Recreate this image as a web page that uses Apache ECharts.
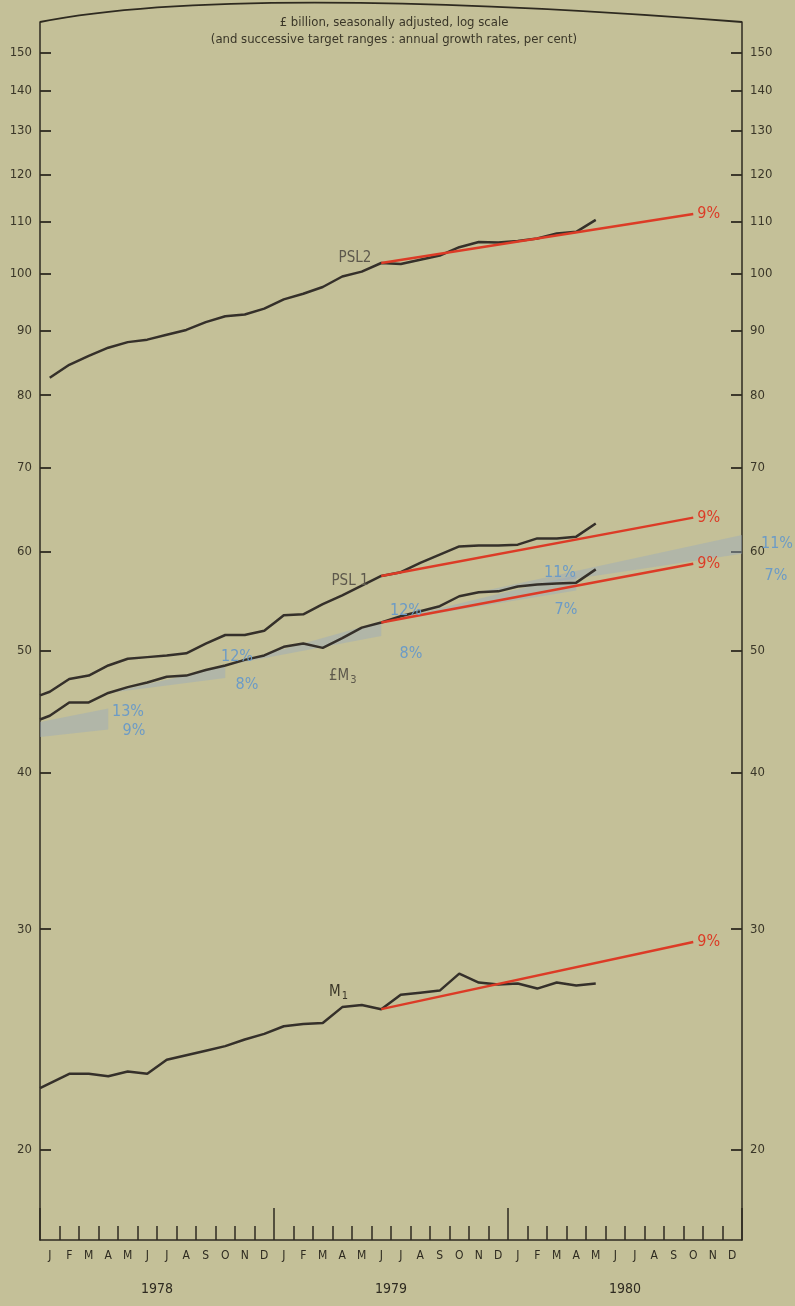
<!DOCTYPE html>
<html><head><meta charset="utf-8">
<script src="https://cdn.jsdelivr.net/npm/echarts@6/dist/echarts.min.js"></script>
<style>html,body{margin:0;padding:0;background:#c4c098}#c{width:795px;height:1306px}</style>
</head><body><div id="c"></div>
<script>
// ---- data ----
const monthLabels = ['J','F','M','A','M','J','J','A','S','O','N','D',
                     'J','F','M','A','M','J','J','A','S','O','N','D',
                     'J','F','M','A','M','J','J','A','S','O','N','D'];
const yearLabels = ['1978','1979','1980'];
const yTicks = [20,30,40,50,60,70,80,90,100,110,120,130,140,150];

// monthly values Jan 1978 .. May 1980 (£ billion)
const psl2 = [82.6,84.6,86.0,87.3,88.2,88.6,89.4,90.2,91.5,92.5,92.8,93.8,95.4,96.4,97.6,99.5,100.4,102.0,101.8,102.6,103.4,105.0,106.0,105.9,106.2,106.7,107.7,108.0,110.4];
const psl1 = [46.4,47.5,47.8,48.7,49.3,49.45,49.6,49.8,50.7,51.5,51.5,51.9,53.4,53.5,54.5,55.4,56.4,57.4,57.8,58.8,59.7,60.6,60.7,60.7,60.8,61.5,61.5,61.7,63.2];
const m3   = [44.4,45.5,45.5,46.3,46.8,47.2,47.7,47.8,48.3,48.7,49.2,49.6,50.4,50.7,50.3,51.2,52.2,52.7,53.3,53.8,54.3,55.3,55.7,55.8,56.3,56.5,56.6,56.7,58.1];
const m1   = [22.6,23.0,23.0,22.9,23.1,23.0,23.6,23.8,24.0,24.2,24.5,24.75,25.1,25.2,25.25,26.0,26.1,25.9,26.6,26.7,26.8,27.65,27.2,27.1,27.15,26.9,27.2,27.05,27.15];
// value where each line meets the left axis
const axisStart = {psl1: 46.1, m3: 44.1, m1: 22.4};

// 9% target lines: month index from / to and values
const targetFrom = 17, targetTo = 33;
const psl2Target = [102.0, 111.6];
const psl1Target = [57.4, 63.9];
const m3Target   = [52.7, 58.7];
const m1Target   = [25.9, 29.3];

// £M3 target ranges: [fromIdx, toIdx, lowFrom, highFrom, lowTo, highTo]
const bands = [
  [-0.5, 3, 42.7, 43.9, 43.3, 45.0],
  [3, 9, 46.3, 46.3, 47.6, 48.6],
  [9, 17, 48.7, 48.7, 51.4, 52.8],
  [17, 27, 52.7, 52.7, 55.9, 57.5],
  [21, 35.5, 55.3, 55.3, 59.8, 61.9]
];

// ---- chart ----
const FONT = "'Liberation Sans Narrow','DejaVu Sans Condensed','Liberation Sans',Arial,sans-serif";
const INK = '#2e2a20', LINE = '#35302a', RED = '#dc3b26', BLUE = '#6c9bc6', GREYTXT = '#5d584c';

function series(vals, start) {
  const d = [];
  if (start != null) d.push([-0.5, start]);
  vals.forEach((v, i) => d.push([i, v]));
  return d;
}
function blackLine(name, vals, start) {
  return {name, type:'line', xAxisIndex:0, yAxisIndex:0, data: series(vals, start), symbol:'none',
    lineStyle:{color: LINE, width:2.5}, z:4, silent:true};
}
function redLine(name, t) {
  return {name, type:'line', xAxisIndex:0, yAxisIndex:0, data:[[targetFrom, t[0]],[targetTo, t[1]]], symbol:'none',
    lineStyle:{color: RED, width:2.4}, z:5, silent:true,
    endLabel:{show:true, formatter:'9%', color:RED, fontSize:16, fontFamily:FONT, distance:4}};
}

const yAxisCommon = {type:'log', min:16.95, max:158.8, logBase:10,
  axisLine:{show:true, onZero:false, lineStyle:{color:INK, width:1.5}},
  axisTick:{show:true, inside:true, length:11, customValues:yTicks, lineStyle:{color:INK, width:1.8}},
  axisLabel:{show:true, customValues:yTicks, margin:8, fontSize:13, color:'#3a3628', fontFamily:FONT},
  splitLine:{show:false}, minorTick:{show:false}, minorSplitLine:{show:false}};

const option = {
  backgroundColor:'#c4c098',
  animation:false,
  grid:{left:40, right:53, top:22, bottom:66, containLabel:false},
  xAxis:[
    {type:'value', min:-0.5, max:35.5, show:false},
    {type:'category', data:monthLabels, position:'bottom', boundaryGap:true,
     axisLine:{show:true, onZero:false, lineStyle:{color:INK, width:1.5}},
     axisTick:{show:true, inside:true, length:14, interval:0, lineStyle:{color:INK, width:1.5}},
     axisLabel:{interval:0, margin:10, fontSize:12, color:INK, fontFamily:FONT}},
    {type:'category', data:yearLabels, position:'bottom', boundaryGap:true,
     axisLine:{show:false, onZero:false},
     axisTick:{show:true, inside:true, length:32, interval:0, lineStyle:{color:INK, width:1.5}},
     axisLabel:{interval:0, margin:42, fontSize:14, color:INK, fontFamily:FONT}}
  ],
  yAxis:[
    Object.assign({}, yAxisCommon, {position:'left'}),
    Object.assign({}, yAxisCommon, {position:'right'})
  ],
  series:[
    {type:'custom', xAxisIndex:0, yAxisIndex:0, data:bands, z:2, silent:true, clip:true,
     encode:{x:[0,1], y:[2,3,4,5]},
     renderItem:function(params, api){
       const x0 = api.value(0), x1 = api.value(1);
       const pts = [api.coord([x0, api.value(3)]), api.coord([x1, api.value(5)]),
                    api.coord([x1, api.value(4)]), api.coord([x0, api.value(2)])];
       return {type:'polygon', shape:{points:pts}, style:{fill:'rgba(150,170,190,0.42)'}};
     }},
    blackLine('PSL2', psl2, null),
    blackLine('PSL1', psl1, axisStart.psl1),
    blackLine('£M3', m3, axisStart.m3),
    blackLine('M1', m1, axisStart.m1),
    redLine('PSL2 target', psl2Target),
    redLine('PSL1 target', psl1Target),
    redLine('£M3 target', m3Target),
    redLine('M1 target', m1Target)
  ],
  graphic:[
    {type:'bezierCurve', z:10, shape:{x1:40,y1:22,x2:742,y2:22,cpx1:200,cpy1:-10,cpx2:500,cpy2:3},
     style:{stroke:INK, lineWidth:1.8, fill:null}},
    {type:'text', z:10, x:394, y:23, style:{text:'£ billion, seasonally adjusted, log scale', align:'center', verticalAlign:'middle', fontSize:13, fontFamily:FONT, fill:'#3a3628'}},
    {type:'text', z:10, x:394, y:40, style:{text:'(and successive target ranges : annual growth rates, per cent)', align:'center', verticalAlign:'middle', fontSize:13, fontFamily:FONT, fill:'#3a3628'}},
    {type:'text', z:10, x:355, y:258, style:{text:'PSL2', align:'center', verticalAlign:'middle', fontSize:15, fontFamily:FONT, fill:GREYTXT}},
    {type:'text', z:10, x:350, y:581, style:{text:'PSL 1', align:'center', verticalAlign:'middle', fontSize:15, fontFamily:FONT, fill:GREYTXT}},
    {type:'text', z:10, x:329, y:667, style:{text:'{a|£M}{b|3}', rich:{a:{fontSize:15, fontFamily:FONT, fill:GREYTXT}, b:{fontSize:11, fontFamily:FONT, fill:GREYTXT, padding:[8,0,0,1]}}}},
    {type:'text', z:10, x:329, y:983, style:{text:'{a|M}{b|1}', rich:{a:{fontSize:15, fontFamily:FONT, fill:'#3a3628'}, b:{fontSize:11, fontFamily:FONT, fill:'#3a3628', padding:[8,0,0,1]}}}},
    {type:'text', z:10, x:128, y:712, style:{text:'13%', align:'center', verticalAlign:'middle', fontSize:16, fontFamily:FONT, fill:BLUE}},
    {type:'text', z:10, x:134, y:731, style:{text:'9%', align:'center', verticalAlign:'middle', fontSize:16, fontFamily:FONT, fill:BLUE}},
    {type:'text', z:10, x:237, y:657, style:{text:'12%', align:'center', verticalAlign:'middle', fontSize:16, fontFamily:FONT, fill:BLUE}},
    {type:'text', z:10, x:247, y:685, style:{text:'8%', align:'center', verticalAlign:'middle', fontSize:16, fontFamily:FONT, fill:BLUE}},
    {type:'text', z:10, x:406, y:611, style:{text:'12%', align:'center', verticalAlign:'middle', fontSize:16, fontFamily:FONT, fill:BLUE}},
    {type:'text', z:10, x:411, y:654, style:{text:'8%', align:'center', verticalAlign:'middle', fontSize:16, fontFamily:FONT, fill:BLUE}},
    {type:'text', z:10, x:560, y:573, style:{text:'11%', align:'center', verticalAlign:'middle', fontSize:16, fontFamily:FONT, fill:BLUE}},
    {type:'text', z:10, x:566, y:610, style:{text:'7%', align:'center', verticalAlign:'middle', fontSize:16, fontFamily:FONT, fill:BLUE}},
    {type:'text', z:10, x:777, y:544, style:{text:'11%', align:'center', verticalAlign:'middle', fontSize:16, fontFamily:FONT, fill:BLUE}},
    {type:'text', z:10, x:776, y:576, style:{text:'7%', align:'center', verticalAlign:'middle', fontSize:16, fontFamily:FONT, fill:BLUE}}
  ]
};
const chart = echarts.init(document.getElementById('c'), null, {renderer:'canvas'});
chart.setOption(option);
</script></body></html>
